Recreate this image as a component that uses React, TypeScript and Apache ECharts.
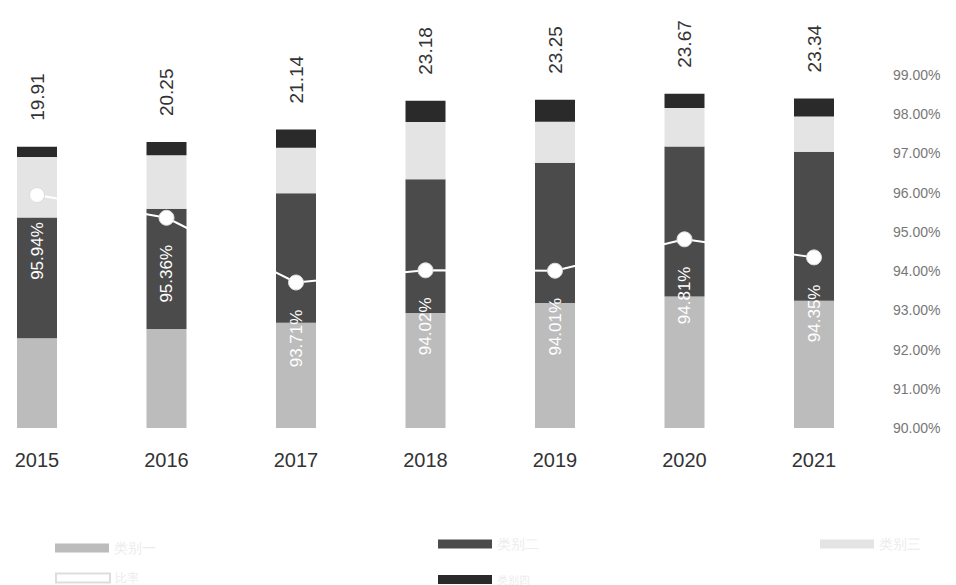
import React, { useEffect, useRef } from "react";
import * as echarts from "echarts";

const years = ["2015", "2016", "2017", "2018", "2019", "2020", "2021"];
const bottomVals = [6.35, 7.01, 7.45, 8.14, 8.86, 9.32, 9.02];
const middleVals = [8.56, 8.51, 9.17, 9.48, 9.92, 10.61, 10.55];
const upperVals = [4.29, 3.8, 3.23, 4.06, 2.91, 2.73, 2.49];
const capVals = [0.71, 0.93, 1.29, 1.5, 1.56, 1.01, 1.28];
const totals = [19.91, 20.25, 21.14, 23.18, 23.25, 23.67, 23.34];
const rateVals = [95.94, 95.36, 93.71, 94.02, 94.01, 94.81, 94.35];

const names = ["类别一", "类别二", "类别三", "比率", "类别四"];

const FONT = "'Liberation Sans', Arial, sans-serif";

export default function App() {
  const ref = useRef<HTMLDivElement>(null);
  useEffect(() => {
    if (!ref.current) return;
    const chart = echarts.init(ref.current, undefined, { renderer: "svg" });
    const mkLegend = (name: string, left: number, top: number, fontSize: number) => ({
      data: [name],
      left,
      top,
      padding: 0,
      itemWidth: 54,
      itemHeight: 9,
      icon: "rect",
      textStyle: { color: "#ececec", fontSize, fontFamily: FONT },
    });
    const option: any = {
      animation: false,
      backgroundColor: "#ffffff",
      textStyle: { fontFamily: FONT },
      grid: { left: 37, right: 142, top: 75, bottom: 157, containLabel: false },
      legend: [
        mkLegend(names[0], 55, 541, 14),
        mkLegend(names[1], 438, 537, 14),
        mkLegend(names[2], 820, 537, 14),
        mkLegend(names[3], 55, 572, 12),
        mkLegend(names[4], 438, 574, 11),
      ],
      xAxis: {
        type: "category",
        data: years,
        boundaryGap: false,
        axisLine: { show: false },
        axisTick: { show: false },
        axisLabel: { color: "#333", fontSize: 20, margin: 22, fontFamily: FONT },
      },
      yAxis: [
        { type: "value", min: 0, max: 25, show: false, splitLine: { show: false } },
        {
          type: "value",
          min: 90,
          max: 99,
          interval: 1,
          position: "right",
          axisLine: { show: false },
          axisTick: { show: false },
          splitLine: { show: false },
          axisLabel: {
            color: "#777",
            fontSize: 14,
            margin: 79,
            fontFamily: FONT,
            formatter: (v: number) => v.toFixed(2) + "%",
          },
        },
      ],
      series: [
        {
          name: names[0],
          type: "bar",
          stack: "s",
          barWidth: 40,
          clip: false,
          data: bottomVals,
          itemStyle: { color: "#bcbcbc" },
        },
        {
          name: names[1],
          type: "bar",
          stack: "s",
          barWidth: 40,
          clip: false,
          data: middleVals,
          itemStyle: { color: "#4b4b4b" },
        },
        {
          name: names[2],
          type: "bar",
          stack: "s",
          barWidth: 40,
          clip: false,
          data: upperVals,
          itemStyle: { color: "#e4e4e4" },
        },
        {
          name: names[4],
          type: "bar",
          stack: "s",
          barWidth: 40,
          clip: false,
          data: capVals,
          itemStyle: { color: "#2a2a2a" },
          label: {
            show: true,
            position: "top",
            distance: 26,
            rotate: 90,
            align: "left",
            verticalAlign: "middle",
            color: "#333",
            fontSize: 19,
            fontFamily: FONT,
            formatter: (p: any) => totals[p.dataIndex].toFixed(2),
          },
        },
        {
          name: names[3],
          type: "line",
          yAxisIndex: 1,
          data: rateVals,
          z: 10,
          clip: false,
          symbol: "circle",
          symbolSize: 15,
          lineStyle: { color: "#ffffff", width: 2 },
          itemStyle: { color: "#ffffff", borderColor: "#dddddd", borderWidth: 1 },
          label: {
            show: true,
            position: "bottom",
            distance: 48,
            rotate: 90,
            align: "center",
            verticalAlign: "middle",
            color: "#ffffff",
            fontSize: 17,
            fontFamily: FONT,
            formatter: (p: any) => rateVals[p.dataIndex].toFixed(2) + "%",
          },
        },
      ],
    };
    chart.setOption(option);
    return () => chart.dispose();
  }, []);
  return (
    <div
      ref={ref}
      style={{ position: "fixed", left: 0, top: 0, width: 956, height: 585, background: "#fff" }}
    />
  );
}
